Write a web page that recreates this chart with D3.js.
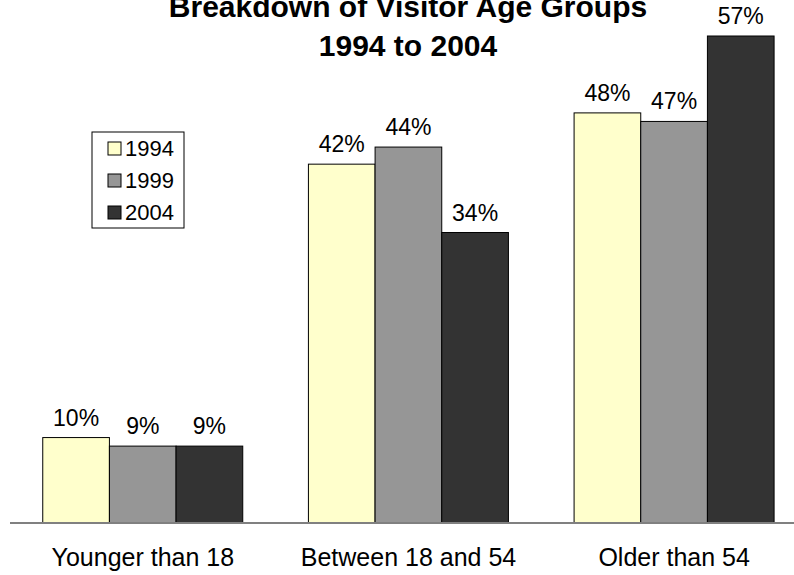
<!DOCTYPE html>
<html>
<head>
<meta charset="utf-8">
<script src="https://cdn.jsdelivr.net/npm/d3@7"></script>
<style>
  body { margin: 0; background: #fff; }
  text { font-family: Arial, "Liberation Sans", sans-serif; fill: #000; }
</style>
</head>
<body>
<div id="container"></div>
<script>
const WIDTH = 794;
const HEIGHT = 575;

var categories = ["Younger than 18", "Between 18 and 54", "Older than 54"];
var years = ["1994", "1999", "2004"];
var values1994 = [10, 42, 48];
var values1999 = [9, 44, 47];
var values2004 = [9, 34, 57];
var colors = ["#FFFFCC", "#969696", "#333333"];
var titleLines = ["Breakdown of Visitor Age Groups", "1994 to 2004"];

var series = [values1994, values1999, values2004];

var drawChart = function () {
    var svg = d3.select("#container").append("svg")
        .attr("width", WIDTH)
        .attr("height", HEIGHT);

    var x0 = d3.scaleBand().domain(categories).range([10, 807]).padding(0);
    var x1 = d3.scaleBand().domain(years).range([32.75, 232.75]).padding(0);
    var y = d3.scaleLinear().domain([0, 57]).range([523, 36]);

    // bars
    categories.forEach(function (cat, ci) {
        var g = svg.append("g").attr("transform", "translate(" + x0(cat) + ",0)");
        years.forEach(function (yr, si) {
            var v = series[si][ci];
            g.append("rect")
                .attr("x", x1(yr))
                .attr("y", y(v))
                .attr("width", x1.bandwidth())
                .attr("height", y(0) - y(v))
                .attr("fill", colors[si])
                .attr("stroke", "#000")
                .attr("stroke-width", 1);
            g.append("text")
                .attr("x", x1(yr) + x1.bandwidth() / 2)
                .attr("y", y(v) - 12)
                .attr("text-anchor", "middle")
                .attr("font-size", 23)
                .text(v + "%");
        });
    });

    // baseline
    svg.append("line")
        .attr("x1", 10).attr("x2", WIDTH)
        .attr("y1", y(0)).attr("y2", y(0))
        .attr("stroke", "#808080")
        .attr("stroke-width", 2);

    // category labels
    var xAxis = d3.axisBottom(x0).tickSize(0).tickPadding(25);
    var ax = svg.append("g").attr("transform", "translate(0," + y(0) + ")").call(xAxis);
    ax.select(".domain").remove();
    ax.selectAll("text")
        .attr("font-size", 25)
        .attr("font-family", "Arial, 'Liberation Sans', sans-serif")
        .attr("fill", "#000");

    // title
    svg.selectAll(".title")
        .data(titleLines)
        .enter().append("text")
        .attr("class", "title")
        .attr("x", 408)
        .attr("y", function (d, i) { return 17 + i * 39; })
        .attr("text-anchor", "middle")
        .attr("font-size", 30)
        .attr("font-weight", "bold")
        .text(function (d) { return d; });

    // legend
    var legend = svg.append("g").attr("transform", "translate(92,132)");
    legend.append("rect")
        .attr("width", 92).attr("height", 96)
        .attr("fill", "#fff").attr("stroke", "#000");
    years.forEach(function (yr, i) {
        legend.append("rect")
            .attr("x", 16).attr("y", 10 + i * 32)
            .attr("width", 13).attr("height", 13)
            .attr("fill", colors[i]).attr("stroke", "#000");
        legend.append("text")
            .attr("x", 33).attr("y", 24 + i * 32)
            .attr("font-size", 22)
            .text(yr);
    });
};

window.onload = drawChart;
</script>
</body>
</html>
